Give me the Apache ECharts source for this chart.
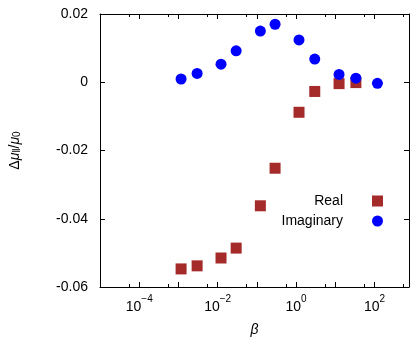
<!DOCTYPE html>
<html>
<head>
<meta charset="utf-8">
<script src="https://cdn.jsdelivr.net/npm/echarts@6/dist/echarts.min.js"></script>
<style>
  html, body { margin: 0; padding: 0; background: #fff; }
  #main { width: 415px; height: 342px; }
</style>
</head>
<body>
<div id="main"></div>
<script>
// beta values (x)
const beta = [0.00117, 0.0030, 0.0122, 0.0297, 0.123, 0.292, 1.19, 3.0, 12.5, 33.6, 119]
// real part, one point fewer than imaginary
const realPart = [-0.0547, -0.0538, -0.0515, -0.0486, -0.0362, -0.0252, -0.0088, -0.0027, -0.0004, -0.0001]
const imagPart = [0.00095, 0.0026, 0.0053, 0.0092, 0.0150, 0.0170, 0.0124, 0.0068, 0.0023, 0.0012, -0.0003]
const yTicks = [-0.06, -0.04, -0.02, 0, 0.02]

const font = 'Liberation Sans, Arial, Helvetica, sans-serif'

const chart = echarts.init(document.getElementById('main'))

const pairs = (xs, ys) => ys.map((y, i) => [xs[i], y])

const supLabel = (v) => {
  const e = Math.round(Math.log10(v))
  if (Math.abs(Math.log10(v) - e) > 1e-6 || e % 2 !== 0) return ''
  return '{b|10}{s|' + (e < 0 ? '\u2212' + (-e) : e) + '}'
}

const xCommon = {
  type: 'log',
  logBase: 10,
  min: 1e-5,
  max: 760,
  splitNumber: 4,
  axisLine: { show: true, onZero: false, lineStyle: { color: '#000', width: 1 } },
  axisTick: { show: true, inside: true, length: 5, lineStyle: { color: '#000' } },
  minorTick: { show: true, splitNumber: 2, length: 3, lineStyle: { color: '#000' } },
  splitLine: { show: false },
  minorSplitLine: { show: false }
}

const yCommon = {
  type: 'value',
  min: yTicks[0],
  max: yTicks[yTicks.length - 1],
  interval: 0.02,
  axisLine: { show: true, onZero: false, lineStyle: { color: '#000', width: 1 } },
  axisTick: { show: true, inside: true, length: 5, lineStyle: { color: '#000' } },
  splitLine: { show: false }
}

chart.setOption({
  animation: false,
  backgroundColor: '#fff',
  textStyle: { fontFamily: font },
  grid: { left: 100, right: 6, top: 14, bottom: 51, containLabel: false },
  xAxis: [
    Object.assign({}, xCommon, {
      position: 'bottom',
      name: '\u03b2',
      nameLocation: 'middle',
      nameGap: 36,
      nameTextStyle: { fontSize: 14, fontStyle: 'italic', color: '#000', fontFamily: font },
      axisLabel: {
        show: true,
        margin: 7,
        showMinLabel: false,
        showMaxLabel: false,
        formatter: supLabel,
        rich: {
          b: { fontSize: 14, color: '#000', fontFamily: font, lineHeight: 20, verticalAlign: 'bottom' },
          s: { fontSize: 10, color: '#000', fontFamily: font, verticalAlign: 'top', lineHeight: 12 }
        }
      }
    }),
    Object.assign({}, xCommon, {
      position: 'top',
      axisLabel: { show: false }
    })
  ],
  yAxis: [
    Object.assign({}, yCommon, {
      position: 'left',
      name: '{d|\u0394}{m|\u03bc}{sub|\u2016}{d|/}{m|\u03bc}{sub|0}',
      nameLocation: 'middle',
      nameRotate: 90,
      nameGap: 78,
      nameTextStyle: {
        rich: {
          d: { fontSize: 14, color: '#000', fontFamily: font, lineHeight: 20, verticalAlign: 'bottom' },
          m: { fontSize: 14, color: '#000', fontFamily: font, fontStyle: 'italic', lineHeight: 20, verticalAlign: 'bottom' },
          sub: { fontSize: 10, color: '#000', fontFamily: font, lineHeight: 10, verticalAlign: 'bottom' }
        }
      },
      axisLabel: {
        show: true,
        margin: 12,
        fontSize: 14,
        color: '#000',
        fontFamily: font,
        formatter: (v) => (Math.abs(v) < 1e-9 ? '0' : v.toFixed(2))
      }
    }),
    Object.assign({}, yCommon, {
      position: 'right',
      axisLabel: { show: false }
    })
  ],
  legend: {
    orient: 'vertical',
    right: 27,
    top: 189,
    align: 'right',
    itemWidth: 11,
    itemHeight: 11,
    itemGap: 6,
    textStyle: { fontSize: 14, color: '#000', fontFamily: font, width: 70, align: 'right', padding: [0, 24, 0, 0] },
    data: [
      { name: 'Real', icon: 'rect' },
      { name: 'Imaginary', icon: 'circle' }
    ]
  },
  series: [
    {
      name: 'Real',
      type: 'scatter',
      xAxisIndex: 0,
      yAxisIndex: 0,
      symbol: 'rect',
      symbolSize: 11,
      itemStyle: { color: '#a52a2a', opacity: 1 },
      data: pairs(beta, realPart)
    },
    {
      name: 'Imaginary',
      type: 'scatter',
      xAxisIndex: 0,
      yAxisIndex: 0,
      symbol: 'circle',
      symbolSize: 11,
      itemStyle: { color: '#0000ff', opacity: 1 },
      data: pairs(beta, imagPart)
    }
  ]
})
</script>
</body>
</html>
